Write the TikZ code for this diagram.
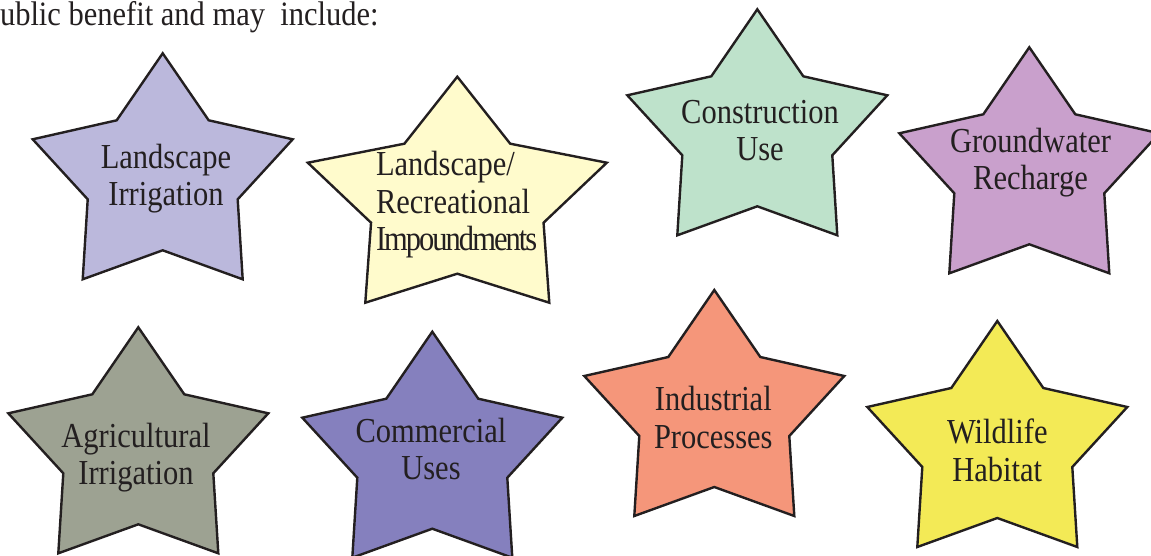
\documentclass[tikz,border=0pt]{standalone}
\usepackage{fontspec}
\setmainfont{Liberation Serif}
\usepackage{graphicx}
\definecolor{ink}{HTML}{231F20}
\definecolor{cLI}{HTML}{BBB8DC}
\definecolor{cLR}{HTML}{FFFBCC}
\definecolor{cCU}{HTML}{BEE2CB}
\definecolor{cGR}{HTML}{C9A0CC}
\definecolor{cAI}{HTML}{9DA292}
\definecolor{cCO}{HTML}{8580BE}
\definecolor{cIP}{HTML}{F5967A}
\definecolor{cWH}{HTML}{F3EA56}
\newcommand{\txl}[1]{\strut\scalebox{1}[1.15]{#1}}
% star: colour, top x, top y, x-scale
\newcommand{\mystar}[4]{%
  \begin{scope}[shift={(#2,#3)}, xscale=#4]
    \draw[starline, fill=#1] (0,0) -- (46,67) -- (130,86) -- (75,146) -- (80,226)
      -- (0,197) -- (-80,226) -- (-75,146) -- (-130,86) -- (-46,67) -- cycle;
  \end{scope}}
\begin{document}
\begin{tikzpicture}[x=1pt,y=-1pt,
  starline/.style={draw=ink, line width=2.4pt, line join=miter},
  lbl/.style={font=\fontsize{30.5}{37.5}\selectfont, inner sep=0pt, outer sep=0pt,
    align=center, anchor=north, text=ink}]
\useasboundingbox (0,0) rectangle (1151,555);
\clip (0,0) rectangle (1151,555);

\node[lbl, anchor=base west, align=left] (head) at (0,25.5)
  {\scalebox{1}[1.12]{ublic benefit and may\ \ include:}};

\mystar{cLI}{162.7}{53.3}{1}
\mystar{cLR}{457.3}{76.7}{1.15}
\mystar{cCU}{757.3}{9.3}{1}
\mystar{cGR}{1029.3}{47.3}{1}
\mystar{cAI}{138.3}{327.3}{1}
\mystar{cCO}{432.3}{331.7}{1}
\mystar{cIP}{714.3}{290}{1}
\mystar{cWH}{997.3}{321}{1}

\node[lbl] (t1) at (166,141.75) {\txl{Landscape}\\\txl{Irrigation}};
\node[lbl, anchor=north west, align=left] (t2) at (376,149.25)
  {\txl{Landscape/}\\\txl{Recreational}\\\txl{\addfontfeature{LetterSpace=-6.5}Impoundments}};
\node[lbl] (t3) at (760,96.75) {\txl{Construction}\\\txl{Use}};
\node[lbl] (t4) at (1030.5,125.75) {\txl{Groundwater}\\\txl{Recharge}};
\node[lbl] (t5) at (136,420.75) {\txl{Agricultural}\\\txl{Irrigation}};
\node[lbl] (t6) at (431,415.75) {\txl{Commercial}\\\txl{Uses}};
\node[lbl] (t7) at (713.3,384.25) {\txl{Industrial}\\\txl{Processes}};
\node[lbl] (t8) at (997.3,417.25) {\txl{Wildlife}\\\txl{Habitat}};
\end{tikzpicture}
\end{document}
